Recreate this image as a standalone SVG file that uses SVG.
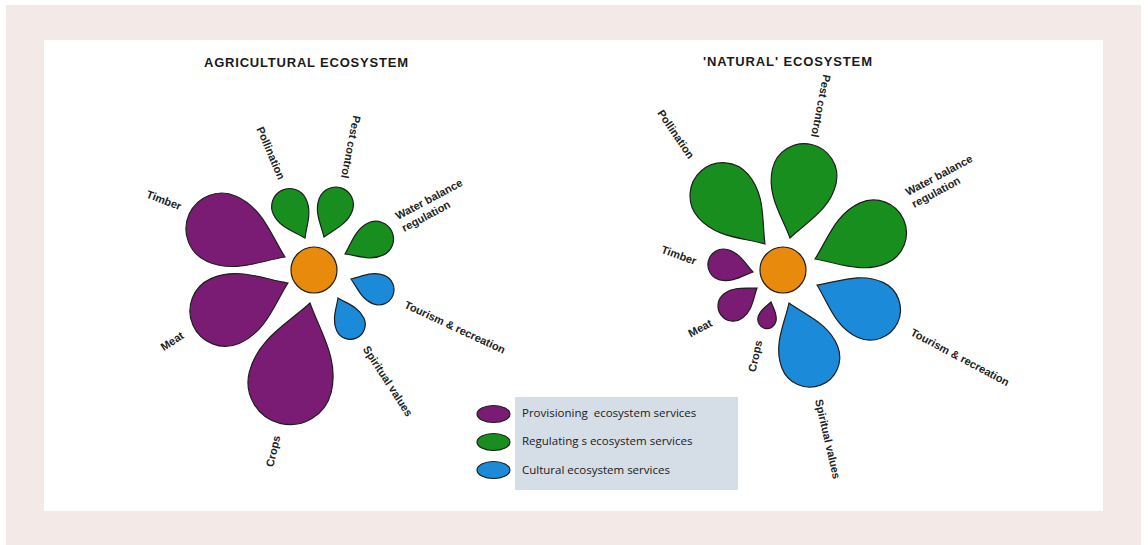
<svg xmlns="http://www.w3.org/2000/svg" xmlns:xlink="http://www.w3.org/1999/xlink" width="1148" height="545" viewBox="0 0 1148 545">
  <style>
    .title { font-family: "Liberation Sans", Arial, sans-serif; font-size: 13px; font-weight: bold; fill: #1a1a1a; }
    .lbl { font-family: "Liberation Sans", Arial, sans-serif; font-size: 11px; font-weight: bold; fill: #222; }
    .leg { font-family: "Open Sans", "Liberation Sans", sans-serif; font-size: 11.5px; fill: #1a1a1a; }
    .prov { fill: #7a1c73; }
    .reg { fill: #178e1e; }
    .cult { fill: #1b8ad8; }
    .edge { stroke: #1e1e1e; stroke-width: 1.2; }
    .core { fill: #e88a0c; stroke: #1e1e1e; stroke-width: 1.2; }
  </style>
  <defs>
    <!-- teardrop petal: tip at origin, rounded end along +x, length 100 -->
    <path id="petal" d="M0,0 C20,-13 38,-34 66,-34 A34,34 0 0 1 66,34 C38,34 20,13 0,0 Z" stroke="#1e1e1e" stroke-width="1.2" vector-effect="non-scaling-stroke"/>
  </defs>

  <!-- backdrop and panel -->
  <rect x="6" y="5" width="1135" height="540" fill="#f3e9e6"/>
  <rect x="44" y="40" width="1059" height="471" fill="#ffffff"/>

  <text class="title" x="306" y="66.5" text-anchor="middle" textLength="204" lengthAdjust="spacing">AGRICULTURAL ECOSYSTEM</text>
  <text class="title" x="787.5" y="66" text-anchor="middle" textLength="169" lengthAdjust="spacing">'NATURAL' ECOSYSTEM</text>

  <!-- agricultural flower -->
  <g id="agri-timber">
    <use xlink:href="#petal" class="prov" transform="translate(285,257) rotate(204) scale(1.05)"/>
    <text class="lbl" text-anchor="middle" transform="translate(164,200) rotate(21)" y="4">Timber</text>
  </g>
  <g id="agri-meat">
    <use xlink:href="#petal" class="prov" transform="translate(288,283) rotate(156) scale(1.04)"/>
    <text class="lbl" text-anchor="middle" transform="translate(172,341) rotate(-33)" y="4">Meat</text>
  </g>
  <g id="agri-crops">
    <use xlink:href="#petal" class="prov" transform="translate(310,303) rotate(104) scale(1.24)"/>
    <text class="lbl" text-anchor="middle" transform="translate(273,451) rotate(-77)" y="4">Crops</text>
  </g>
  <g id="agri-pollination">
    <use xlink:href="#petal" class="reg" transform="translate(305,238) rotate(244) scale(0.53)"/>
    <text class="lbl" text-anchor="middle" transform="translate(271,153) rotate(67)" y="4">Pollination</text>
  </g>
  <g id="agri-pest">
    <use xlink:href="#petal" class="reg" transform="translate(324,237) rotate(-70) scale(0.52)"/>
    <text class="lbl" text-anchor="middle" transform="translate(351,147) rotate(101)" y="4">Pest control</text>
  </g>
  <g id="agri-water">
    <use xlink:href="#petal" class="reg" transform="translate(345,254) rotate(-26) scale(0.52)"/>
    <text class="lbl" transform="translate(398,220) rotate(-28)"><tspan x="0" y="0">Water balance</tspan><tspan x="0" y="13.5">regulation</tspan></text>
  </g>
  <g id="agri-tourism">
    <use xlink:href="#petal" class="cult" transform="translate(351,279) rotate(21) scale(0.45)"/>
    <text class="lbl" text-anchor="middle" transform="translate(455,327) rotate(25)" y="4">Tourism &amp; recreation</text>
  </g>
  <g id="agri-spiritual">
    <use xlink:href="#petal" class="cult" transform="translate(338,298) rotate(65) scale(0.44)"/>
    <text class="lbl" text-anchor="middle" transform="translate(388,381) rotate(57)" y="4">Spiritual values</text>
  </g>
  <g id="agri-core">
    <circle class="core" cx="314" cy="270" r="23"/>
  </g>

  <!-- natural flower -->
  <g id="nat-timber">
    <use xlink:href="#petal" class="prov" transform="translate(753,272) rotate(194) scale(0.46)"/>
    <text class="lbl" text-anchor="middle" transform="translate(679,255) rotate(20)" y="4">Timber</text>
  </g>
  <g id="nat-meat">
    <use xlink:href="#petal" class="prov" transform="translate(757,288) rotate(143) scale(0.45)"/>
    <text class="lbl" text-anchor="middle" transform="translate(700,328) rotate(-28)" y="4">Meat</text>
  </g>
  <g id="nat-crops">
    <use xlink:href="#petal" class="prov" transform="translate(771,302) rotate(103) scale(0.27)"/>
    <text class="lbl" text-anchor="middle" transform="translate(755,356) rotate(-78)" y="4">Crops</text>
  </g>
  <g id="nat-spiritual">
    <use xlink:href="#petal" class="cult" transform="translate(789,303) rotate(69) scale(0.88)"/>
    <text class="lbl" text-anchor="middle" transform="translate(828,439) rotate(77)" y="4">Spiritual values</text>
  </g>
  <g id="nat-tourism">
    <use xlink:href="#petal" class="cult" transform="translate(817,285) rotate(25) scale(0.89)"/>
    <text class="lbl" text-anchor="middle" transform="translate(960,357) rotate(28)" y="4">Tourism &amp; recreation</text>
  </g>
  <g id="nat-water">
    <use xlink:href="#petal" class="reg" transform="translate(815,259) rotate(-24) scale(0.97)"/>
    <text class="lbl" transform="translate(908,196) rotate(-28)"><tspan x="0" y="0">Water balance</tspan><tspan x="0" y="13.5">regulation</tspan></text>
  </g>
  <g id="nat-pest">
    <use xlink:href="#petal" class="reg" transform="translate(790,238) rotate(-77) scale(0.96)"/>
    <text class="lbl" text-anchor="middle" transform="translate(821,106) rotate(101)" y="4">Pest control</text>
  </g>
  <g id="nat-pollination">
    <use xlink:href="#petal" class="reg" transform="translate(765,244) rotate(229) scale(0.97)"/>
    <text class="lbl" text-anchor="middle" transform="translate(676,134) rotate(56)" y="4">Pollination</text>
  </g>
  <g id="nat-core">
    <circle class="core" cx="783" cy="270" r="23"/>
  </g>

  <!-- legend -->
  <g id="legend">
    <rect x="515" y="397" width="223" height="93" fill="#d5dde6"/>
    <ellipse class="prov edge" cx="493.5" cy="414" rx="16.5" ry="8.5"/>
    <ellipse class="reg edge" cx="493.5" cy="442" rx="16.5" ry="8.5"/>
    <ellipse class="cult edge" cx="493.5" cy="470" rx="16.5" ry="8.5"/>
    <text class="leg" x="522" y="417" xml:space="preserve">Provisioning  ecosystem services</text>
    <text class="leg" x="522" y="445">Regulating s ecosystem services</text>
    <text class="leg" x="522" y="474">Cultural ecosystem services</text>
  </g>
</svg>
